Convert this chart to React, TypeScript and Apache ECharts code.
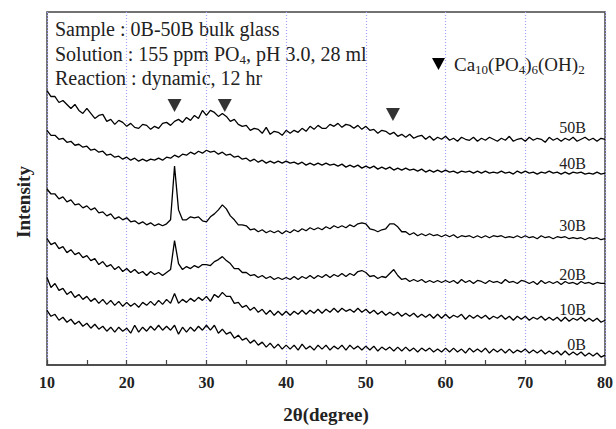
import React, { useEffect, useRef } from "react";
import * as echarts from "echarts";

// XRD scan grid: 2θ from 10° to 80° in 0.5° steps
const scanStart = 10;
const scanStep = 0.5;

// Stacked intensities (arbitrary units, vertically offset as in the figure)
const s50B = [
  276,270,270,264,266,262,258,262,256,253,
  258,253,248,251,252,245,247,242,246,244,
  240,243,239,238,242,241,237,240,238,243,
  244,241,245,247,244,249,246,251,248,256,
  251,256,254,250,253,250,245,247,242,240,
  241,236,238,237,233,239,232,235,234,231,
  236,233,236,234,238,235,240,237,241,238,
  238,242,240,243,239,242,241,238,241,237,
  240,236,237,233,236,235,232,234,230,232,
  229,232,228,230,231,227,230,226,229,227,
  230,226,228,225,229,227,226,229,225,228,
  226,229,227,225,228,226,230,225,227,228,
  225,229,226,228,227,224,229,226,228,225,
  228,226,229,225,227,229,226,228,225,228,
  227,
];
const s40B = [
  236,231,231,227,228,224,225,221,222,219,
  220,216,217,214,215,211,212,209,210,207,
  209,206,208,205,207,205,207,206,208,206,
  209,208,211,209,212,211,214,212,215,213,
  216,214,215,212,214,211,212,209,210,207,
  208,205,207,204,206,203,205,203,205,203,
  205,203,204,202,204,201,203,201,203,201,
  203,201,202,200,202,199,201,199,201,198,
  200,198,200,197,199,197,199,196,198,196,
  198,196,197,195,197,194,196,194,196,194,
  196,194,195,193,195,194,195,193,195,193,
  195,193,194,193,195,193,194,192,195,193,
  195,193,194,192,194,193,195,193,194,192,
  194,192,194,193,194,192,193,192,194,192,
  193,
];
const s30B = [
  177,172,172,167,169,164,166,161,162,158,
  160,156,158,153,154,150,152,147,149,146,
  148,144,145,142,144,141,143,140,142,140,
  142,146,200,156,146,146,149,148,149,145,
  144,149,152,156,161,157,150,146,141,141,
  140,136,137,134,136,133,135,133,135,132,
  135,133,136,134,137,135,138,136,138,136,
  139,137,140,138,140,138,141,139,142,143,
  142,137,136,134,136,137,142,142,139,134,
  134,131,133,130,132,130,132,130,131,129,
  131,129,131,128,130,129,130,128,130,128,
  130,128,130,129,130,128,129,128,130,128,
  130,128,129,127,130,128,129,127,129,128,
  129,127,128,127,128,126,128,127,128,126,
  127,
];
const s20B = [
  127,121,123,117,119,113,116,111,113,108,
  110,105,107,101,104,99,101,96,99,94,
  97,93,96,92,94,90,94,91,93,90,
  93,96,125,102,96,99,97,100,98,101,
  101,100,104,106,109,105,102,97,97,93,
  93,90,91,88,90,87,89,86,88,86,
  88,86,89,86,89,87,90,87,90,88,
  91,88,91,89,92,89,92,90,94,95,
  93,89,90,87,89,88,92,96,90,86,
  87,84,86,84,86,83,85,83,85,83,
  85,83,85,82,86,83,85,82,85,84,
  82,85,83,84,82,86,83,84,82,85,
  84,82,84,81,85,82,84,82,84,81,
  84,82,83,81,84,82,83,81,83,82,
  82,
];
const s10B = [
  88,78,82,75,77,71,74,68,71,66,
  69,64,67,62,66,61,65,60,64,59,
  63,59,62,58,63,60,64,60,65,61,
  66,62,72,62,66,63,67,64,68,65,
  69,64,71,68,73,69,69,62,63,58,
  60,55,58,53,56,51,55,50,54,50,
  54,50,54,51,55,51,55,52,56,52,
  56,53,57,53,57,54,56,53,57,53,
  56,52,55,51,54,50,53,50,53,49,
  52,49,52,48,51,48,51,47,51,47,
  51,47,50,48,51,46,50,47,50,47,
  50,46,49,47,50,46,49,45,49,46,
  49,45,48,46,49,45,48,45,48,44,
  48,44,47,45,48,44,47,44,47,43,
  45,
];
const s0B = [
  55,49,51,45,48,43,46,41,44,39,
  42,37,41,36,39,34,38,33,38,34,
  37,32,40,33,38,34,39,35,40,35,
  39,35,40,31,38,33,38,34,39,35,
  40,35,40,32,36,31,33,27,30,25,
  27,22,25,20,23,18,22,17,21,16,
  20,16,20,15,21,16,19,15,20,16,
  20,15,19,16,20,15,20,16,19,15,
  19,15,19,14,18,15,18,14,18,14,
  18,14,17,13,17,14,17,13,16,13,
  17,13,17,13,16,12,17,13,16,13,
  17,12,16,13,16,12,16,12,15,13,
  16,12,15,12,15,11,14,11,14,10,
  14,10,13,10,13,9,12,9,12,8,
  10,
];

const seriesNames = ["50B", "40B", "30B", "20B", "10B", "0B"];
const seriesValues = [s50B, s40B, s30B, s20B, s10B, s0B];

// Hydroxyapatite reflection markers (2θ, marker height)
const hapPeaks = [
  [26.0, 261],
  [32.3, 261],
  [53.4, 252],
];

const xTicks = [10, 20, 30, 40, 50, 60, 70, 80];

const SERIF = "'Liberation Serif', 'Times New Roman', serif";

export default function App() {
  const ref = useRef<HTMLDivElement | null>(null);

  useEffect(() => {
    document.body.style.margin = "0";
    if (!ref.current) return;
    const chart = echarts.init(ref.current, undefined, { renderer: "svg" });

    const lineSeries = seriesValues.map((vals, k) => ({
      name: seriesNames[k],
      type: "line",
      showSymbol: false,
      symbol: "none",
      silent: true,
      data: vals.map((v, i) => [scanStart + i * scanStep, v]),
      lineStyle: { color: "#000", width: 1.3 },
      z: 3,
    }));

    const labelY = [127, 163, 225, 274, 309, 344];
    const sub = { fontSize: 13, fontFamily: SERIF, fill: "#222", verticalAlign: "bottom", lineHeight: 13 };

    chart.setOption({
      animation: false,
      backgroundColor: "#fff",
      grid: {
        left: 47,
        right: 11,
        top: 12,
        bottom: 62,
        show: true,
        borderColor: "#444",
        borderWidth: 1.5,
        backgroundColor: "transparent",
      },
      xAxis: {
        type: "value",
        min: xTicks[0],
        max: xTicks[xTicks.length - 1],
        interval: 10,
        name: "2θ(degree)",
        nameLocation: "middle",
        nameGap: 40,
        nameTextStyle: { fontFamily: SERIF, fontWeight: "bold", fontSize: 19, color: "#222" },
        axisLine: { show: true, lineStyle: { color: "#444", width: 1.5 } },
        axisTick: { show: true, inside: true, length: 5, lineStyle: { color: "#444", width: 1.2 } },
        minorTick: { show: true, splitNumber: 2, length: 5, lineStyle: { color: "#444", width: 1.2 } },
        axisLabel: { fontFamily: SERIF, fontWeight: "bold", fontSize: 16, color: "#222", margin: 9 },
        splitLine: { show: true, lineStyle: { color: "#a3a3ff", type: [1, 2], width: 1.2 } },
      },
      yAxis: {
        type: "value",
        min: 0,
        max: 355,
        axisLine: { show: false },
        axisTick: { show: false },
        axisLabel: { show: false },
        splitLine: { show: false },
      },
      series: [
        ...lineSeries,
        {
          type: "scatter",
          data: hapPeaks,
          symbol: "triangle",
          symbolRotate: 180,
          symbolSize: [14, 13],
          itemStyle: { color: "#000" },
          silent: true,
          z: 5,
        },
      ],
      graphic: [
        {
          type: "text",
          left: 55,
          top: 19,
          style: { text: "Sample : 0B-50B bulk glass", fontSize: 20, fontFamily: SERIF, fill: "#222" },
        },
        {
          type: "text",
          left: 55,
          top: 42,
          style: {
            text: "Solution : 155 ppm PO{s|4}, pH 3.0, 28 ml",
            fontSize: 20,
            fontFamily: SERIF,
            fill: "#222",
            lineHeight: 24,
            rich: { s: sub },
          },
        },
        {
          type: "text",
          left: 55,
          top: 68,
          style: { text: "Reaction : dynamic, 12 hr", fontSize: 20, fontFamily: SERIF, fill: "#222" },
        },
        {
          type: "polygon",
          shape: { points: [[432, 58], [445, 58], [438.5, 70]] },
          style: { fill: "#000" },
        },
        {
          type: "text",
          left: 454,
          top: 52,
          style: {
            text: "Ca{s|10}(PO{s|4}){s|6}(OH){s|2}",
            fontSize: 19,
            fontFamily: SERIF,
            fill: "#222",
            lineHeight: 24,
            rich: { s: sub },
          },
        },
        ...seriesNames.map((n, k) => ({
          type: "text",
          x: 586,
          y: labelY[k],
          style: {
            text: n,
            fontSize: 16,
            fontFamily: SERIF,
            fill: "#222",
            textAlign: "right",
            textVerticalAlign: "middle",
          },
        })),
        {
          type: "text",
          x: 23,
          y: 202,
          rotation: Math.PI / 2,
          style: {
            text: "Intensity",
            fontSize: 19,
            fontWeight: "bold",
            fontFamily: SERIF,
            fill: "#222",
            textAlign: "center",
            textVerticalAlign: "middle",
          },
        },
      ],
    });

    return () => chart.dispose();
  }, []);

  return <div ref={ref} style={{ width: 616, height: 429 }} />;
}
